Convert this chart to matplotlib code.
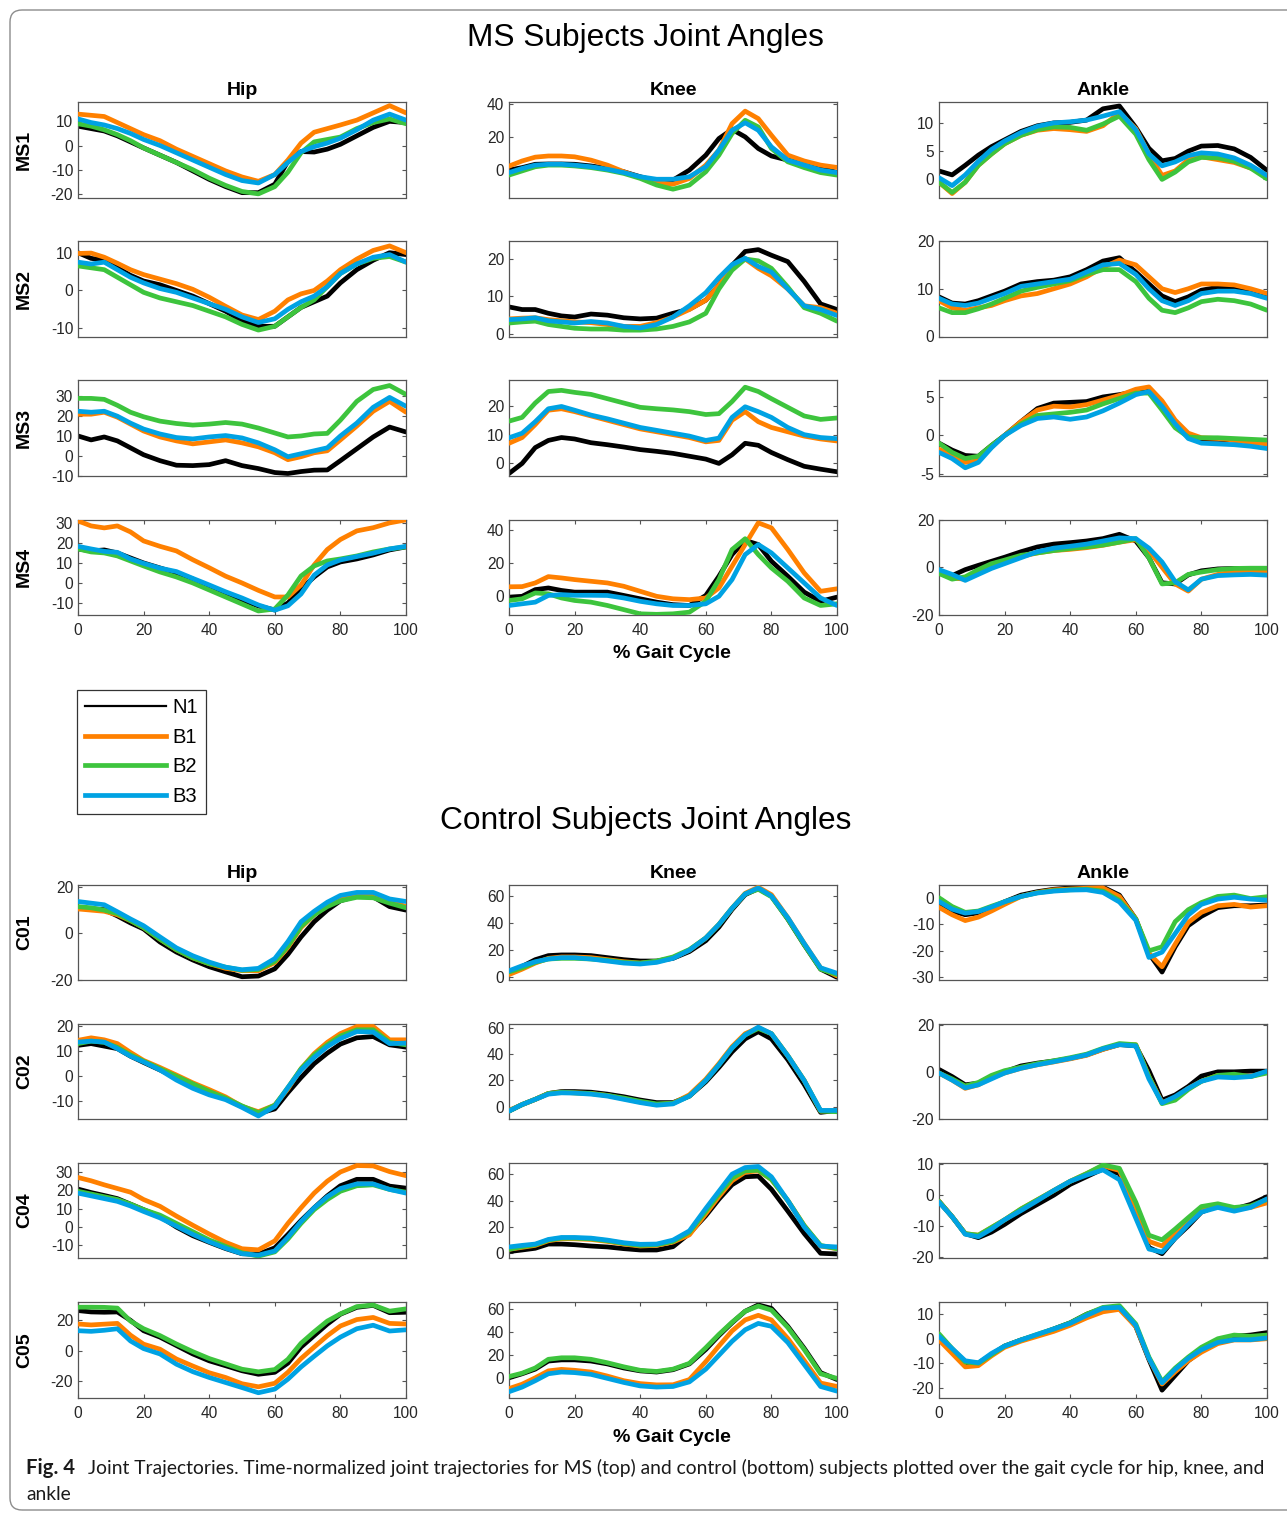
import matplotlib
matplotlib.use("Agg")
import matplotlib.pyplot as plt
from matplotlib.lines import Line2D
from matplotlib.patches import FancyBboxPatch
from matplotlib.transforms import IdentityTransform

# ---------------- data ----------------
GAIT = [0, 4, 8, 12, 16, 20, 25, 30, 35, 40, 45, 50, 55, 60, 64, 68, 72, 76, 80, 85, 90, 95, 100]
CONDITIONS = ["N1", "B1", "B2", "B3"]
JOINTS = ["Hip", "Knee", "Ankle"]
MS_SUBJECTS = ["MS1", "MS2", "MS3", "MS4"]
CTRL_SUBJECTS = ["C01", "C02", "C04", "C05"]
X_TICKS = [0, 20, 40, 60, 80, 100]

# each subplot: [N1, B1, B2, B3]
MS1_HIP = [
    [8, 7, 6, 4, 1.5, -1, -4, -7, -10.5, -14, -17, -19.5, -19.5, -16, -6.5, -2.5, -2.7, -1.5, 0.5, 4, 7.5, 10, 9.5],
    [13, 12.5, 12, 9.5, 7, 4.5, 2, -1.5, -4.5, -7.5, -10.5, -13, -14.8, -12, -6, 1, 5.5, 7, 8.5, 10.5, 13.5, 16.5, 13.5],
    [9, 8, 6.5, 4.5, 2, -1, -4, -7, -10, -13.5, -16.5, -19, -20, -17, -11, -3, 1.5, 2.5, 3.5, 7, 9.5, 11, 9],
    [11, 9.5, 8.5, 7, 5, 2.5, 0, -3, -6, -9, -12, -14.5, -15.5, -12, -7, -2.5, -0.5, 1, 3, 6.5, 10.5, 13, 10.5],
]
MS2_HIP = [
    [10, 8.5, 8, 6, 4, 2.5, 1.5, 0, -1.5, -3.5, -5.5, -8, -9.5, -9.5, -7, -4.5, -3, -1.5, 2, 5.5, 8, 10, 9.5],
    [9.8, 9.9, 8.8, 7.2, 5.5, 4.2, 3, 1.8, 0.3, -1.8, -4.2, -6.5, -7.7, -5.5, -2.5, -0.9, 0, 2.5, 5.5, 8.3, 10.6, 11.8, 10],
    [6.5, 6, 5.5, 3.5, 1.5, -0.5, -2, -3, -4, -5.5, -7, -9, -10.5, -9.5, -7, -4.5, -2.5, 1, 4.5, 7, 8.5, 9, 7.5],
    [7.5, 7, 7.5, 5.5, 3.5, 2, 0.5, -0.5, -2, -3.5, -5, -7, -8.5, -7.5, -5, -3, -1.5, 1, 4.5, 7, 8.8, 9.5, 7.5],
]
MS3_HIP = [
    [10, 8, 9.5, 7.5, 4, 0.5, -2.5, -4.8, -5, -4.5, -2.5, -5, -6.5, -8.5, -9, -8, -7.3, -7.2, -2.5, 3.5, 9.5, 14.5, 12],
    [21, 21, 22, 19.5, 16, 12.5, 9.5, 7.5, 6, 7, 8, 6.5, 4.5, 1.5, -2, -0.5, 1.5, 2.5, 8, 15, 22.5, 27.5, 22],
    [29, 29, 28.5, 25.5, 22, 19.7, 17.5, 16.3, 15.5, 16, 16.8, 16, 14, 11.5, 9.5, 10, 11, 11.3, 18, 27.5, 33.5, 35.5, 31],
    [22.5, 22, 22.5, 20, 16.5, 13.5, 11, 9.2, 8.5, 9.5, 10.2, 9, 6.5, 3, -0.5, 1, 2.5, 4, 10, 16.5, 24.5, 29.5, 25],
]
MS4_HIP = [
    [17, 16, 16.5, 15, 12.5, 10, 7.5, 5, 2, -2, -5, -8.5, -11.5, -13.5, -10, -3, 3, 8, 10.5, 12, 14, 16.5, 18],
    [31, 28.5, 27.5, 28.5, 25.5, 21, 18.3, 16, 11.6, 7.6, 3.4, 0, -3.7, -7, -7, -1, 9, 16.7, 21.7, 26, 27.6, 30, 31.5],
    [17, 15.5, 15, 13.5, 11, 8.5, 5.5, 3, 0, -3.5, -7, -10.5, -14, -13, -6, 3.5, 8.5, 11, 12, 13.5, 15.5, 17, 18],
    [18.3, 17, 15.8, 15.3, 12, 9.8, 7.4, 5.7, 2.3, -1, -4.4, -7.5, -11, -13.6, -11.4, -5.5, 3.9, 9, 11.5, 13.2, 14.9, 17, 18.3],
]
MS1_KNEE = [
    [0, 1.5, 3.5, 3.7, 3.7, 3.5, 2.5, 1, -1, -4, -6.5, -6, 0, 9, 19, 24.5, 20, 13, 8.5, 6, 4, 1.5, -1.5],
    [2.4, 5.5, 7.8, 8.5, 8.5, 8, 6, 3, -1, -4.5, -7.5, -8.5, -5, 3, 12, 28, 35.5, 31, 21, 9, 5.5, 3, 1.6],
    [-3, -0.5, 2, 3, 3, 2.5, 1.5, 0, -2, -5, -9, -11.5, -9, -1, 9, 22, 30, 26, 13, 5, 1.5, -1.5, -3],
    [-1.5, 1, 3, 3.5, 3.5, 3, 2, 0.5, -1.5, -4, -5.5, -5.5, -4, 2, 12, 24, 28.5, 24, 14, 6, 3, 0, -1.5],
]
MS2_KNEE = [
    [7.2, 6.5, 6.5, 5.5, 4.8, 4.5, 5.3, 5, 4.3, 4, 4.2, 5.5, 6.6, 9, 13, 18.3, 22, 22.5, 21, 19.3, 14, 8, 6.5],
    [4, 4.2, 4.3, 3.8, 3.5, 3.2, 3, 2.5, 2, 2, 3, 4.5, 6.5, 9, 13, 18, 20, 17.5, 15.5, 12, 7.5, 7, 5.5],
    [2.9, 3.2, 3.4, 2.5, 2, 1.5, 1.3, 1.3, 1, 1, 1.3, 2, 3.2, 5.5, 12, 17, 20, 19.5, 17.5, 12.5, 7, 5.5, 3.4],
    [3.8, 4, 4.3, 3.5, 3.2, 2.9, 3.3, 2.9, 2, 1.6, 2.5, 4.5, 7.5, 11, 15, 18.5, 20.2, 18, 16.5, 12, 7.5, 6.5, 4.9],
]
MS3_KNEE = [
    [-3.5, 0, 5.5, 8, 9, 8.5, 7.2, 6.5, 5.7, 4.8, 4.2, 3.5, 2.5, 1.5, 0, 3, 7, 6.3, 3.8, 1.3, -1, -2, -2.9],
    [7, 9, 13.5, 18.5, 19, 18, 16.5, 15, 13.5, 12, 11, 10, 9, 7.5, 8, 15, 18, 14.5, 12.5, 11, 9.5, 8.5, 7.8],
    [14.7, 16, 21, 25, 25.4, 24.7, 24, 22.5, 21, 19.5, 19, 18.6, 18, 17, 17.3, 21.5, 26.5, 25, 22.5, 19.5, 16.5, 15.3, 15.8],
    [8.9, 10.5, 14.5, 19, 19.8, 18.5, 16.8, 15.5, 14, 12.5, 11.5, 10.5, 9.5, 8, 8.8, 16, 19.7, 18, 16, 12.5, 10, 9, 8.6],
]
MS4_KNEE = [
    [-0.5, 0, 4, 5, 3.5, 2.5, 2.5, 2.5, 0.5, -1.5, -3.5, -5, -5.5, 0.5, 12, 25, 33.5, 31, 21, 12, 2.5, -3, -0.5],
    [5.7, 5.8, 8, 11.8, 11, 10, 9, 8, 6, 3, 0, -1.5, -2, -1, 5, 18, 31, 44, 41, 28, 14, 3, 4.5],
    [-2.5, -1.5, 2, 1.5, -1, -2.5, -3.5, -5.5, -8, -10.5, -10.8, -10.5, -9.5, -3, 10, 28, 34.5, 25, 17, 9, -1, -5.5, -4.5],
    [-5.5, -4.5, -3.5, 0.5, 1, 0.6, 0.6, 0.5, -1, -3, -4.5, -5.5, -5.5, -4.5, 0, 10, 25, 31, 26, 17, 8, -1, -5.5],
]
MS1_ANKLE = [
    [1.5, 0.8, 2.5, 4.3, 5.8, 7, 8.5, 9.5, 10, 10.1, 10.5, 12.5, 13, 9.2, 5.5, 3.3, 3.7, 5, 5.9, 6, 5.4, 3.9, 1.6],
    [-0.5, -2.5, -0.5, 2.5, 4.5, 6.3, 7.8, 8.7, 9, 8.8, 8.5, 9.5, 11.8, 9, 4.5, 0.7, 1.5, 3.5, 4, 3.5, 3, 2, 0.8],
    [-0.5, -2.3, -0.5, 2.5, 4.5, 6.3, 7.8, 8.8, 9.3, 9.2, 8.7, 9.8, 11.2, 8, 3.5, 0, 1.3, 3.1, 3.9, 3.8, 3.2, 2, 0.1],
    [0.3, -1.1, 0.8, 3.2, 5.3, 6.8, 8.3, 9.4, 10, 10.2, 10.5, 11.2, 12, 8.8, 4.5, 2.4, 3.1, 4.2, 4.7, 4.5, 3.8, 2.5, 0.7],
]
MS2_ANKLE = [
    [8.3, 7, 6.8, 7.5, 8.5, 9.5, 11, 11.5, 11.8, 12.5, 14, 15.8, 16.5, 13.5, 11, 8.5, 7.3, 8.3, 9.7, 10.3, 10.2, 9.5, 8.3],
    [7.5, 6, 5.5, 6, 6.5, 7.5, 8.5, 9, 10, 11, 12.5, 14.5, 16, 15, 12.5, 10, 9.2, 10, 11, 11, 10.8, 10, 9],
    [6, 5, 5, 5.8, 6.8, 8, 9.5, 10.3, 11, 11.7, 13, 14, 14, 11.5, 8, 5.5, 5, 6, 7.3, 7.8, 7.5, 6.8, 5.5],
    [8, 6.8, 6.5, 7, 8, 9, 10.5, 11, 11.5, 12, 13.5, 15, 15.3, 13, 10, 7.5, 6.5, 7.5, 9, 9.5, 9.5, 9, 8],
]
MS3_ANKLE = [
    [-1, -1.9, -2.6, -2.7, -1.3, 0, 1.8, 3.5, 4.2, 4.3, 4.4, 5, 5.3, 5.7, 5.8, 4, 1.2, -0.1, -0.5, -0.5, -0.6, -0.7, -0.9],
    [-1.8, -2.5, -3.5, -3.3, -1.5, 0, 1.8, 3.3, 3.8, 3.7, 4, 4.6, 5.2, 6, 6.3, 4.5, 2, 0.3, -0.3, -0.4, -0.6, -0.9, -1.1],
    [-1, -2.2, -3, -2.7, -1.3, 0, 1.5, 2.6, 2.8, 3, 3.3, 4.1, 4.8, 5.5, 5.5, 3.3, 1, -0.2, -0.3, -0.3, -0.4, -0.5, -0.6],
    [-2.2, -3, -4.2, -3.5, -1.6, 0, 1.3, 2.2, 2.4, 2.1, 2.4, 3.2, 4.2, 5.3, 5.7, 3.8, 1.5, -0.4, -1, -1.1, -1.2, -1.4, -1.7],
]
MS4_ANKLE = [
    [-2, -3.5, -1, 0.8, 2.5, 4.2, 6.5, 8.5, 9.7, 10.3, 11, 12, 13.8, 11, 4, -6.5, -7, -3.2, -1.5, -0.7, -0.5, -0.6, -1],
    [-2.5, -4.5, -5, -2, 0.5, 2.5, 4.5, 6, 7, 7.5, 8.2, 9.2, 10.5, 11.5, 7, 0, -7, -10, -5, -3, -2, -1.5, -1.5],
    [-2.6, -5, -4, -1, 1.5, 3, 5, 6, 7, 7.8, 8.5, 9.3, 10.5, 12, 4, -7, -6.5, -3, -2, -1, -0.5, -0.4, -0.4],
    [-1, -3, -5.5, -3, -0.5, 1.5, 4, 6.5, 8, 8.8, 9.7, 11, 12.3, 12, 8, 2.2, -6, -9.5, -5, -3.5, -3.2, -3, -3.3],
]

C01_HIP = [
    [11.1, 10.6, 10.2, 7.5, 4.5, 1.9, -3.7, -8, -11.4, -14.3, -16.5, -18.6, -18.3, -15.2, -9, -1.5, 5, 10, 14, 16, 15.7, 11.5, 10],
    [10.5, 10, 9.5, 8, 5.5, 2.5, -2.5, -7, -10.5, -13, -15, -16, -16, -12.5, -6, 2.5, 8, 12, 15, 16.5, 16.5, 14, 11.5],
    [11.5, 11, 10, 8.5, 5.5, 2.5, -2.5, -7, -10.5, -13, -14.5, -15.8, -15.5, -12, -5.5, 3, 8, 11.5, 14, 15.5, 15.3, 13, 11],
    [13.7, 13, 12.3, 9.3, 6.2, 3.3, -1.5, -6.2, -9.6, -12.3, -14.5, -15.6, -15, -10.8, -3.5, 5, 9.5, 13.4, 16.3, 17.6, 17.6, 14.8, 13.7],
]
C02_HIP = [
    [12.3, 13, 12, 11, 8, 5.5, 2.5, -0.5, -3.5, -6.5, -9, -12, -14.8, -13, -6.5, -0.5, 5, 9.2, 12.8, 15.3, 15.8, 12.5, 11.6],
    [14.3, 15.3, 14.5, 13, 9.5, 6.3, 3.5, 0.5, -2.6, -5.3, -8.2, -12, -14.1, -11.5, -5, 3, 9, 13.5, 17, 19.8, 19.8, 14.5, 14.5],
    [13, 14, 13.5, 11.5, 8.5, 6, 3, 0, -3, -6, -8.7, -11.8, -14.5, -11.5, -4.5, 3, 8.5, 12.5, 16, 18.5, 18.5, 13.5, 12.5],
    [13.6, 14, 13.6, 11, 8, 5.7, 2.5, -1.5, -4.8, -7.4, -9.3, -12.4, -15.8, -12, -4.5, 2.5, 7.5, 11.8, 15, 17.8, 17.6, 13, 13.2],
]
C04_HIP = [
    [20.7, 18.8, 17.2, 15.5, 12.5, 9.5, 5.8, 0, -4.7, -8.3, -11.7, -14.5, -14.7, -11.3, -4, 3.6, 10.5, 17, 22.5, 26, 26, 22.3, 21.2],
    [27, 25.2, 23, 21, 19, 15, 11.3, 6, 1, -3.8, -8.3, -11.8, -12.4, -7.5, 2, 10.5, 18.5, 25, 30, 33.5, 33.3, 30.2, 28],
    [19.5, 18, 16.5, 15, 12.5, 9.5, 6.5, 2, -2.5, -7, -10.5, -14, -15.8, -13.5, -6.5, 2, 9.5, 15, 19.5, 22.5, 23, 20.5, 19],
    [18.5, 17, 15.5, 14, 11.5, 8.5, 5, 0.5, -4, -8, -11.5, -14.5, -15.3, -13, -5.5, 3, 10.5, 16.5, 21, 23.5, 23.5, 20.5, 18.5],
]
C05_HIP = [
    [26.4, 25.5, 25.3, 25.5, 20, 13.2, 9, 3.5, -2, -6.5, -9.7, -13, -15.3, -14, -8, 2.5, 10, 17.5, 24, 28.5, 29.8, 25, 25.3],
    [17.6, 17, 17.5, 18, 10.3, 4.4, 1.1, -5.3, -9.9, -14.3, -17.4, -21.5, -23.5, -21.2, -14, -5, 2.5, 9.9, 16.3, 20.5, 21.9, 18, 17.6],
    [28.6, 28.6, 28.5, 28, 19.5, 14.5, 10, 4.5, -0.5, -5, -8.5, -12, -13.7, -12.2, -5.5, 5, 12.5, 19.5, 24.2, 29, 30, 26, 27.5],
    [13.2, 12.8, 13.5, 14.5, 6.5, 1.5, -2, -8.7, -13.6, -17.4, -20.7, -24, -27.4, -25, -18.5, -10.5, -3.5, 3.3, 9, 14.5, 16.8, 13, 13.8],
]
C01_KNEE = [
    [3, 8, 13, 16, 16.5, 16.5, 16, 14.5, 13, 12, 12, 14, 19, 27, 37, 50, 61, 65.5, 60, 43, 24, 6, 0],
    [2, 6, 10.5, 14, 15, 15, 14.5, 13, 11.5, 10.5, 11.5, 14.5, 20, 29, 39, 51, 62, 66.5, 61, 44, 25, 7, 1],
    [4, 7, 11, 13.5, 14, 14, 13.5, 12.5, 11, 10.5, 12, 15, 20.5, 29, 39, 51, 61.5, 65, 59.5, 43, 24, 6, 2],
    [4.8, 8.5, 11.5, 13.5, 14.5, 14.5, 13.5, 12, 10.5, 9.8, 11, 14, 20, 29, 39, 51, 61.5, 66, 60, 44, 25, 7, 3],
]
C02_KNEE = [
    [-3.5, 1.5, 5.5, 10, 11.5, 11.5, 11, 9.5, 7.5, 5, 3, 3, 8, 19, 30, 42, 52, 57.5, 52, 36, 17, -4.5, -3],
    [-3, 1.5, 5.5, 10, 11, 10.5, 10, 8.5, 6, 3.5, 1.5, 2.5, 9, 21, 33, 46, 56, 60.5, 56, 39, 20, -3.5, -3],
    [-3.5, 1.5, 5.5, 10, 11, 10.5, 10, 8.5, 6.5, 4, 2, 2.5, 8, 20, 32, 45, 55, 60, 56, 39, 20, -3.5, -4],
    [-3.5, 1.5, 5.5, 9.5, 10.5, 10.3, 9.5, 8, 5.5, 3, 1, 2, 8, 20, 32, 45, 55, 61, 56, 39, 20, -3, -3],
]
C04_KNEE = [
    [1.3, 2.5, 3.8, 7, 7, 6.5, 5.5, 4.8, 3.5, 2.5, 2.5, 5, 15, 28.5, 41, 52, 58, 58.5, 48.5, 32, 15, 0, -0.5],
    [3, 4.5, 6, 9.5, 11, 11, 10.5, 9, 7, 5.5, 6, 8.5, 14, 30, 43, 55, 61.5, 62.5, 56, 40, 21, 5.5, 3.5],
    [3, 5, 6.5, 10, 11.5, 11.5, 11, 9.5, 7.5, 6, 6.5, 9, 16, 32, 45, 57, 62.5, 63, 56, 40, 21, 6, 3.5],
    [4.8, 6, 7, 10.5, 12, 12, 11.5, 10, 8, 6.8, 7, 10, 17, 34, 47, 60, 65, 65.8, 58, 40, 20, 5.5, 4.8],
]
C05_KNEE = [
    [0.5, 4, 8, 15, 16, 16, 15, 12.5, 9, 6.5, 5.5, 7.5, 12.5, 25, 37, 48, 58, 63.5, 60.5, 45, 26, 5, -1],
    [-8.8, -5, 0.5, 6.5, 7.8, 7, 5.5, 2, -2, -4.5, -5.6, -5.5, -1, 14.5, 28, 41, 50.5, 54.5, 50.5, 34.5, 15.5, -4, -7],
    [1.6, 4.5, 9, 16.5, 17.8, 17.8, 16.5, 13.5, 10, 7, 6, 8, 13, 26.5, 38, 48.5, 58, 62.5, 59, 44, 25, 4, 0],
    [-11.5, -7.5, -2, 4, 5.5, 5, 3.5, 0, -3.5, -6.5, -7.5, -7, -3, 8, 20, 32, 42, 47.5, 45, 31, 12, -7, -11],
]
C01_ANKLE = [
    [-2.3, -5, -6.4, -5.7, -3.8, -1.5, 1, 2.3, 3.2, 3.7, 3.9, 4, 1, -8, -21, -28, -18.5, -10.5, -7, -3.7, -3, -3, -2.7],
    [-3.6, -6.4, -8.6, -7.3, -5, -2.5, 0.5, 2, 3, 3.3, 3.6, 3.7, 0.5, -8, -21, -26, -17.5, -9.3, -5.5, -3, -2.5, -3.5, -3],
    [0, -3.3, -5.5, -5, -3.2, -1.5, 0.5, 1.9, 2.7, 3, 3.2, 2.5, -1, -8, -20, -18.5, -9, -4.5, -1.8, 0.5, 1, -0.3, 0.4],
    [-1.4, -4.3, -5.8, -5.2, -3.5, -1.5, 0.5, 1.8, 2.5, 2.9, 3, 2, -1.6, -8.5, -22.5, -20.5, -13.5, -6.5, -2.5, -0.5, 0.2, -0.5, -0.9],
]
C02_ANKLE = [
    [1, -2, -5.5, -4.8, -2, 0, 2.5, 3.7, 4.6, 5.7, 7.2, 9.6, 11.6, 11, 0.5, -12, -9.8, -6.2, -1.8, 0, 0, 0.3, 0.3],
    [-0.5, -3.5, -7, -5.5, -2.5, -0.5, 1.5, 3, 4.2, 5.5, 7, 9.5, 11.5, 11.5, -2, -13, -11, -7, -4, -1.5, -1.5, -2, 0],
    [-0.5, -3, -6, -4.5, -1.5, 0.5, 2, 3.5, 4.7, 6, 7.5, 10, 12, 11.5, -2, -13.5, -12, -7.5, -4, -1.5, -1, -2, -0.5],
    [-0.5, -3.5, -6.8, -5.5, -3, -0.5, 1.5, 3, 4.3, 5.7, 7.2, 9.8, 11.5, 11, -3, -13.2, -10.5, -7, -4, -2.2, -2.5, -2, 0.3],
]
C04_ANKLE = [
    [-2, -7, -12.5, -13.8, -12, -9.5, -6, -3, 0, 3.5, 6, 8.5, 7, -5.5, -17, -19, -14, -10, -5.5, -3.5, -4.5, -3, -0.5],
    [-2, -7, -12.5, -13, -10.5, -8, -4.5, -1.5, 1.5, 4.5, 7, 9.5, 8, -4, -15, -16.5, -12.5, -8.5, -4.5, -3.5, -4.5, -4, -2.5],
    [-2, -7, -12.5, -13, -10.5, -8, -4.5, -1.5, 1.5, 4.5, 7, 9.8, 8.7, -2.3, -13, -14.5, -11, -7.3, -3.7, -2.8, -4, -3.5, -1.4],
    [-2.3, -7, -12.7, -13.5, -11, -8, -5, -1.8, 1.5, 4.5, 6.5, 8.2, 5, -7.5, -17.5, -18.5, -14, -9.5, -5.5, -4, -5.2, -4, -1.2],
]
C05_ANKLE = [
    [0, -4.5, -10, -10, -6.5, -3, -0.5, 1.5, 4, 6.5, 10, 12.5, 13, 5, -8.5, -21, -15, -9, -5, -1, 1, 1.5, 2.5],
    [-0.5, -6, -11.5, -11, -7, -3.5, -1, 1, 3, 5.5, 8.5, 11, 12, 5, -8, -18.5, -13.5, -9, -5.5, -2, -0.5, -0.5, 0],
    [2, -4, -9.5, -10, -6.5, -3, -0.5, 1.8, 4, 6.5, 10, 12.8, 13.5, 6, -7.5, -17.5, -12, -7.5, -3.5, 0, 1.5, 1, 1.5],
    [1, -4, -9, -9.8, -6, -3, -0.5, 1.8, 4, 6.3, 9.5, 12.5, 12.8, 5.5, -8, -18, -12.5, -8, -4.5, -1.5, -0.4, -0.4, 0.3],
]

MS_DATA = [[MS1_HIP, MS1_KNEE, MS1_ANKLE], [MS2_HIP, MS2_KNEE, MS2_ANKLE],
           [MS3_HIP, MS3_KNEE, MS3_ANKLE], [MS4_HIP, MS4_KNEE, MS4_ANKLE]]
CTRL_DATA = [[C01_HIP, C01_KNEE, C01_ANKLE], [C02_HIP, C02_KNEE, C02_ANKLE],
             [C04_HIP, C04_KNEE, C04_ANKLE], [C05_HIP, C05_KNEE, C05_ANKLE]]

# ---------------- layout / style ----------------
W, H, DPI = 1287, 1514, 100
COLORS = ["#000000", "#FF8000", "#3DC43D", "#00A2E3"]
FONT = ["Liberation Sans", "DejaVu Sans"]
plt.rcParams["font.family"] = FONT

MS_YLIM = [[(-21.5, 18), (-16.5, 41), (-3.2, 13.7)],
           [(-12.2, 13.1), (-0.7, 24.8), (0, 20)],
           [(-10, 38.3), (-4.2, 29), (-5.2, 7.2)],
           [(-16, 31.7), (-11.2, 46), (-20, 20)]]
MS_YTICKS = [[[-20, -10, 0, 10], [0, 20, 40], [0, 5, 10]],
             [[-10, 0, 10], [0, 10, 20], [0, 10, 20]],
             [[-10, 0, 10, 20, 30], [0, 10, 20], [-5, 0, 5]],
             [[-10, 0, 10, 20, 30], [0, 20, 40], [-20, 0, 20]]]
C_YLIM = [[(-20, 21), (-2, 68.5), (-31, 5)],
          [(-17, 21), (-9.6, 63.8), (-20, 20.5)],
          [(-17, 35), (-3.8, 68.6), (-20.5, 10.5)],
          [(-30.5, 32), (-16.5, 66), (-24, 15)]]
C_YTICKS = [[[-20, 0, 20], [0, 20, 40, 60], [-30, -20, -10, 0]],
            [[-10, 0, 10, 20], [0, 20, 40, 60], [-20, 0, 20]],
            [[-10, 0, 10, 20, 30], [0, 20, 40, 60], [-20, -10, 0, 10]],
            [[-20, 0, 20], [0, 20, 40, 60], [-20, -10, 0, 10]]]

COL_LEFT = [78, 509, 939]
AX_W = 328
MS_TOPS = [102, 241, 380, 519.5]
C_TOPS = [884.5, 1023.5, 1162.8, 1302]
AX_H = 95.5

fig = plt.figure(figsize=(W / DPI, H / DPI), dpi=DPI)
fig.patch.set_facecolor("white")


def fx(x):
    return x / W


def fy(y):
    return 1 - y / H


def draw_section(data, ylims, yticks, tops, subjects):
    for r in range(4):
        for c in range(3):
            top = tops[r]
            ax = fig.add_axes([fx(COL_LEFT[c]), fy(top + AX_H), AX_W / W, AX_H / H])
            for k, series in enumerate(data[r][c]):
                assert len(series) == len(GAIT), (subjects[r], JOINTS[c], k, len(series))
                ax.plot(GAIT, series, color=COLORS[k], lw=3.4, solid_capstyle="round",
                        solid_joinstyle="round", zorder=2 + k)
            ax.set_xlim(0, 100)
            ax.set_ylim(*ylims[r][c])
            ax.set_yticks(yticks[r][c])
            ax.set_yticklabels([str(t) for t in yticks[r][c]])
            for sp in ax.spines.values():
                sp.set_color("#555555")
                sp.set_linewidth(0.9)
            ax.tick_params(axis="both", direction="in", length=3, width=0.8,
                           colors="#555555", labelcolor="#262626", labelsize=11.2,
                           right=True, top=(r == 3))
            ax.tick_params(axis="y", pad=3.5)
            ax.tick_params(axis="x", pad=6)
            if r == 3:
                ax.set_xticks(X_TICKS)
                ax.set_xticklabels([str(t) for t in X_TICKS])
            else:
                ax.set_xticks([])
            if r == 0:
                ax.set_title(JOINTS[c], fontsize=14, fontweight="bold", pad=5)
            if c == 0:
                ax.set_ylabel(subjects[r], fontsize=14, fontweight="bold")
                ax.yaxis.set_label_coords(-0.137, 0.5)


draw_section(MS_DATA, MS_YLIM, MS_YTICKS, MS_TOPS, MS_SUBJECTS)
draw_section(CTRL_DATA, C_YLIM, C_YTICKS, C_TOPS, CTRL_SUBJECTS)

fig.text(fx(645), fy(38), "MS Subjects Joint Angles", fontsize=22.8, ha="center", va="center")
fig.text(fx(646), fy(821), "Control Subjects Joint Angles", fontsize=22.8, ha="center", va="center")
fig.text(fx(672), fy(654), "% Gait Cycle", fontsize=14, fontweight="bold", ha="center", va="center")
fig.text(fx(672), fy(1437), "% Gait Cycle", fontsize=14, fontweight="bold", ha="center", va="center")

# legend
handles = [Line2D([], [], color=COLORS[0], lw=1.6),
           Line2D([], [], color=COLORS[1], lw=3.4),
           Line2D([], [], color=COLORS[2], lw=3.4),
           Line2D([], [], color=COLORS[3], lw=3.4)]
leg = fig.legend(handles, CONDITIONS, loc="upper left", bbox_to_anchor=(fx(77), fy(690)),
                 bbox_transform=fig.transFigure, frameon=True, fancybox=False, shadow=False,
                 fontsize=14.5, handlelength=4.0, handletextpad=0.3, labelspacing=0.52,
                 borderpad=0.42, borderaxespad=0)
leg.get_frame().set_edgecolor("#333333")
leg.get_frame().set_linewidth(0.9)
leg.get_frame().set_alpha(1)

# outer rounded frame
frame = FancyBboxPatch((10, H - 1510), 1300, 1500, boxstyle="round,pad=0,rounding_size=12",
                       transform=IdentityTransform(), fill=False, edgecolor="#8c8c8c", lw=1.0)
fig.patches.append(frame)

# caption
renderer = fig.canvas.get_renderer()
CAP_FONT = ["Lato", "DejaVu Sans"]
t_bold = fig.text(fx(26), fy(1468), "Fig. 4", fontsize=13, fontweight="bold", family=CAP_FONT,
                  ha="left", va="center", color="#1a1a1a")
line1 = ("Joint Trajectories. Time-normalized joint trajectories for MS (top) and control (bottom) "
         "subjects plotted over the gait cycle for hip, knee, and")
t1 = fig.text(fx(88), fy(1468), line1, fontsize=13, family=CAP_FONT, ha="left", va="center",
              color="#1a1a1a")
w1 = t1.get_window_extent(renderer).width
size = 13 * (1265 - 88) / w1
t1.set_fontsize(size)
t_bold.set_fontsize(size * 1.05)
fig.text(fx(26), fy(1494), "ankle", fontsize=size, family=CAP_FONT, ha="left", va="center",
         color="#1a1a1a")

fig.savefig("out.png", dpi=DPI, facecolor="white")
